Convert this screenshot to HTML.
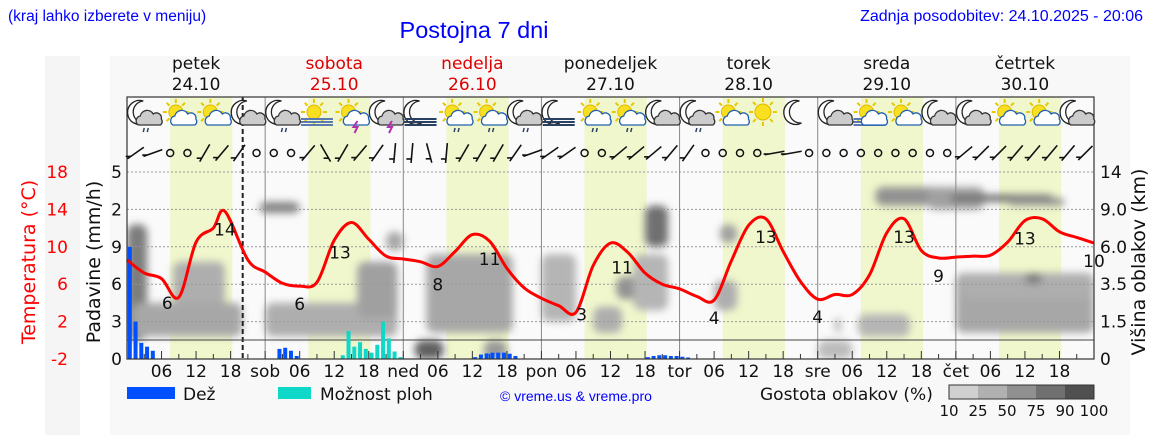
<!DOCTYPE html>
<html><head><meta charset="utf-8">
<style>
html,body{margin:0;padding:0;background:#fff;}
svg{display:block;font-family:"DejaVu Sans","Liberation Sans",sans-serif;}
.hdr{font-family:"Liberation Sans",sans-serif;fill:#0000ff;}
</style></head>
<body>
<svg id="chart" width="1152" height="443" viewBox="0 0 1152 443" xmlns="http://www.w3.org/2000/svg">
<defs>
<filter id="blur" x="-30%" y="-30%" width="160%" height="160%"><feGaussianBlur stdDeviation="4"/></filter>
<clipPath id="plotclip"><rect x="127" y="97" width="967" height="262"/></clipPath>
</defs>
<rect x="45" y="56" width="35" height="379" fill="#f5f5f5"/>
<rect x="110" y="56" width="1020" height="379" fill="#f8f8f8"/>
<text class="hdr" x="8" y="21" font-size="15.5">(kraj lahko izberete v meniju)</text>
<text class="hdr" x="474" y="38" font-size="23.5" text-anchor="middle">Postojna 7 dni</text>
<text class="hdr" x="1143" y="21" font-size="16" text-anchor="end">Zadnja posodobitev: 24.10.2025 - 20:06</text>
<g id="plot"></g>
</svg>
<script>
const NS="http://www.w3.org/2000/svg";
const svg=document.getElementById('chart');
const plot=document.getElementById('plot');
// ---- data ----
const dayNames=["petek","sobota","nedelja","ponedeljek","torek","sreda","četrtek"];
const dayDates=["24.10","25.10","26.10","27.10","28.10","29.10","30.10"];
const dayRed=[false,true,true,false,false,false,false];
const axisDayShort=["","sob","ned","pon","tor","sre","čet"];
// temperatures every 3 h from Fri 00:00
const tempHours=[0,3,6,9,12,15,17,21,24,27,30,33,36,39,42,45,48,51,54,57,60,63,66,69,72,75,78,81,84,87,90,93,96,99,102,105,108,111,114,117,120,123,126,129,132,135,138,141,144,147,150,153,156,159,162,165,168];
const tempVals=[8.6,7.2,6.6,4.6,10.5,12.0,13.8,8.6,7.3,6.1,5.8,6.2,10.7,12.6,10.8,9.0,8.7,8.4,7.9,9.5,11.3,10.6,7.7,5.6,4.5,3.7,3.0,8.0,10.4,9.4,7.2,6.0,5.5,4.7,4.3,8.5,12.3,13.0,9.5,6.3,4.4,4.9,4.9,7.0,11.5,13.0,9.6,8.8,8.9,9.0,9.1,10.5,12.8,13.0,11.6,11.0,10.4];
const tempLabelHours=[7,17,30,37,54,63,79,86,102,111,120,135,141,156,168];
const tempLabelText=["6","14","6","13","8","11","3","11","4","13","4","13","9","13","10"];
const rainHours=[0,1,2,3,4,26,27,28,29,60,61,62,63,64,65,66,67,90,91,92,93,94,95,96,97];
const rainVals=[3.0,1.0,0.43,0.33,0.22,0.27,0.3,0.22,0.08,0.05,0.12,0.15,0.17,0.17,0.17,0.14,0.08,0.05,0.08,0.1,0.1,0.08,0.08,0.06,0.04];
const stormHours=[37,38,39,40,41,42,43,44,45,46,47];
const stormVals=[0.1,0.75,0.33,0.45,0.27,0.17,0.38,1.0,0.55,0.2,0.05];
// clouds: start hour, end hour, low level, high level (grid units 0-5), density %
const cloudStart=[0,8,1,23,24,40,45,50,52,72,81,85,90,88,103,102,120,127,130,139,143,144,153,145,156,62,123];
const cloudEnd=[3.5,17,20,30,47,47,48,55,67,78,86,91,94,94,106,106,126,136,143,149,161,168,163,168,159,66,124];
const cloudLow=[0.5,0.8,0.6,3.9,0.6,1.1,2.9,0,0.7,1.0,0.7,1.6,3.0,1.3,3.1,1.3,0,0.6,4.1,4.0,4.2,0.7,4.1,1.6,2.0,0,0.7];
const cloudHigh=[3.6,2.6,1.5,4.2,1.5,2.6,3.4,0.5,2.8,2.8,1.4,2.2,4.1,2.8,3.6,2.1,0.5,1.2,4.6,4.6,4.4,2.3,4.3,2.3,2.3,0.5,1.1];
const cloudDens=[75,40,45,70,40,50,45,95,45,35,40,60,85,35,50,40,30,35,60,50,85,45,60,40,75,55,40];
// weather icons every 6 h
const iconTypes=["mcr","sc","sc","mc","mcr","sf","st","mst","mf","scr","scr","mcr","mf","scr","scr","mc","mcr","sc","s","m","mc","sfc","sc","mc","mc","sc","sc","mc"];
// wind barbs every 3 h (degrees from vertical, null = calm)
const windAng=[55,70,null,null,30,40,35,null,null,null,40,-30,30,40,35,5,5,-15,5,30,30,30,35,70,55,55,null,null,50,50,50,40,35,null,null,null,null,80,80,null,null,null,null,null,null,null,null,null,50,45,45,40,40,40,40,45];
// ---- axes ----
const X0=127,X1=1094,PX=(X1-X0)/168;
const xh=h=>X0+h*PX;
const yGrid=L=>359-L*37.4;
const yT=t=>359-(t+2)/20*187;
const yRain=v=>v*37.4;
function el(tag,attrs,parent){const e=document.createElementNS(NS,tag);for(const k in attrs)e.setAttribute(k,attrs[k]);(parent||plot).appendChild(e);return e;}
function txt(s,x,y,attrs,parent){const e=el('text',Object.assign({x:x,y:y},attrs),parent);e.textContent=s;return e;}

let e=el('rect',{x:X0,y:97,width:X1-X0,height:262,fill:'#fafafa'});


for(let d=0;d<7;d++){
  e=el('rect',{x:xh(d*24+7.5),y:97,width:10.8*PX,height:262,fill:'#f0f7cc'});
  
  
}
const cg=el('g',{'clip-path':'url(#plotclip)',filter:'url(#blur)'});


for(let i=0;i<cloudStart.length;i++){
  const g=Math.round(230-cloudDens[i]*1.4);
  e=el('rect',{x:xh(cloudStart[i]),y:yGrid(cloudHigh[i]),width:(cloudEnd[i]-cloudStart[i])*PX,height:(cloudHigh[i]-cloudLow[i])*37.4,rx:8,fill:`rgb(${g},${g},${g})`},cg);
  
  
}
for(let L=1;L<=5;L++){
  e=el('line',{x1:X0,x2:X1,y1:yGrid(L),y2:yGrid(L),stroke:'#999','stroke-dasharray':'2,2','stroke-width':1});
  
  
}
for(let d=1;d<7;d++){
  e=el('line',{x1:xh(d*24),x2:xh(d*24),y1:97,y2:359,stroke:'#888','stroke-width':1});
  
  
}
e=el('line',{x1:xh(20.1),x2:xh(20.1),y1:97,y2:359,stroke:'#222','stroke-width':2,'stroke-dasharray':'5,3'});


e=el('line',{x1:X0,x2:X1,y1:340,y2:340,stroke:'#444','stroke-width':1});


for(let i=0;i<rainHours.length;i++){
  const h=yRain(rainVals[i]);
  e=el('rect',{x:xh(rainHours[i])+0.8,y:359-h,width:4,height:h,fill:'#0050ff'});
  
  
}
for(let i=0;i<stormHours.length;i++){
  const h=yRain(stormVals[i]);
  e=el('rect',{x:xh(stormHours[i])+0.8,y:359-h,width:4,height:h,fill:'#10d8c8'});
  
  
}
// temperature line (Catmull-Rom smoothing)
const pts=tempHours.map((h,i)=>[xh(h),yT(tempVals[i])]);
let d='M'+pts[0][0].toFixed(1)+' '+pts[0][1].toFixed(1);
for(let i=0;i<pts.length-1;i++){
  const p0=pts[Math.max(0,i-1)],p1=pts[i],p2=pts[i+1],p3=pts[Math.min(pts.length-1,i+2)];
  const c1=[p1[0]+(p2[0]-p0[0])/6,p1[1]+(p2[1]-p0[1])/6],c2=[p2[0]-(p3[0]-p1[0])/6,p2[1]-(p3[1]-p1[1])/6];
  d+=` C${c1[0].toFixed(1)} ${c1[1].toFixed(1)} ${c2[0].toFixed(1)} ${c2[1].toFixed(1)} ${p2[0].toFixed(1)} ${p2[1].toFixed(1)}`;
}
e=el('path',{d:d,fill:'none',stroke:'#ff0000','stroke-width':3,'stroke-linejoin':'round'});


function tempAt(h){for(let i=1;i<tempHours.length;i++){if(h<=tempHours[i]){const a=tempHours[i-1],b=tempHours[i];return tempVals[i-1]+(tempVals[i]-tempVals[i-1])*(h-a)/(b-a);}}return tempVals[tempVals.length-1];}
for(let i=0;i<tempLabelHours.length;i++){
  const h=tempLabelHours[i];
  e=txt(tempLabelText[i],xh(h),yT(tempAt(h))+24,{'font-size':17,'text-anchor':'middle',fill:'#111'});
  
  
}
e=el('rect',{x:X0,y:97,width:X1-X0,height:262,fill:'none',stroke:'#333','stroke-width':1.2});


for(let h=3;h<168;h+=3){
  el('line',{x1:xh(h),x2:xh(h),y1:359,y2:h%6==0?351:354,stroke:'#333'});
}
for(let dd=0;dd<7;dd++){
  for(const hh of [0,6,12,18]){
    let s=hh==0?axisDayShort[dd]:String(hh).padStart(2,'0');
    if(!s)continue;
    e=txt(s,xh(dd*24+hh),377,{'font-size':17,'text-anchor':'middle',fill:'#111'});
    
    
  }
  e=txt(dayNames[dd],xh(dd*24+12),69,{'font-size':17,'text-anchor':'middle',fill:dayRed[dd]?'#dd0000':'#111'});
  
  
  e=txt(dayDates[dd],xh(dd*24+12),90,{'font-size':17,'text-anchor':'middle',fill:dayRed[dd]?'#dd0000':'#111'});
  
  
}
const tTicks=["-2","2","6","10","14","18"];
const pTicks=["0","3","6","9","2","5"];
const cTicks=["0","1.5","3.5","6.0","9.0","14"];
for(let L=0;L<6;L++){
  e=txt(tTicks[L],68,yGrid(L)+6,{'font-size':17,'text-anchor':'end',fill:'#ff0000'});
  
  
  e=txt(pTicks[L],122,yGrid(L)+6,{'font-size':17,'text-anchor':'end',fill:'#111'});
  
  
  e=txt(cTicks[L],1100,yGrid(L)+6,{'font-size':17,fill:'#111'});
  
  
}
e=txt('Temperatura (°C)',0,0,{'font-size':19,'text-anchor':'middle',fill:'#ff0000',transform:'translate(35,262) rotate(-90)'});


e=txt('Padavine (mm/h)',0,0,{'font-size':19,'text-anchor':'middle',fill:'#111',transform:'translate(100,262) rotate(-90)'});


e=txt('Višina oblakov (km)',0,0,{'font-size':19,'text-anchor':'middle',fill:'#111',transform:'translate(1145,262) rotate(-90)'});


function sun(g,x,y,r){for(let k=0;k<8;k++){const a=k*Math.PI/4;el('line',{x1:x+Math.cos(a)*(r+2),y1:y+Math.sin(a)*(r+2),x2:x+Math.cos(a)*(r+6),y2:y+Math.sin(a)*(r+6),stroke:'#e8c800','stroke-width':2},g);}el('circle',{cx:x,cy:y,r:r,fill:'#f8e020',stroke:'#e0b800'},g);}
function moon(g,x,y){el('path',{d:`M${x+4} ${y-12} A12 12 0 1 0 ${x+6} ${y+10} A10 10 0 1 1 ${x+4} ${y-12} Z`,fill:'#fff',stroke:'#222','stroke-width':1.3},g);}
function cloud(g,x,y,fill,stroke){el('path',{d:`M${x-11} ${y+6} a5 5 0 0 1 2-9 a7 7 0 0 1 13-2 a5 5 0 0 1 8 5 a4 4 0 0 1 -1 6 Z`,fill:fill,stroke:stroke,'stroke-width':1.3},g);}
for(let i=0;i<iconTypes.length;i++){
  const t=iconTypes[i],cx=xh(i*6+3),cy=115;
  const g=el('g',{});
  
  
  if(t[0]=='s')sun(g,cx-3,cy-3,t=='s'?8:7);else moon(g,cx-5,cy-2);
  if(t=='sf'||t=='sfc'||t=='mf'){for(let k=0;k<3;k++)el('line',{x1:cx-16,x2:cx+16,y1:cy+4+k*3,y2:cy+4+k*3,stroke:t=='mf'?'#2a4060':'#5a7ab0','stroke-width':2},g);}
  if(t.length>1&&t!='sf'&&t!='mf'){cloud(g,cx+5,cy+4,t[0]=='m'?'#ccc':'#fff',t[0]=='m'?'#333':'#2060b0');}
  if(t.endsWith('r')){el('path',{d:`M${cx} ${cy+13} l-1 4 M${cx+4} ${cy+13} l-1 4`,stroke:'#2a4060','stroke-width':1.5},g);}
  if(t=='st'||t=='mst'){el('path',{d:`M${cx+6} ${cy+6} l-4 6 h4 l-3 6`,stroke:'#b030b0','stroke-width':2,fill:'none'},g);}
}
for(let i=0;i<windAng.length;i++){
  const x=xh(i*3+1.5),y=153,a=windAng[i];
  const g=el('g',{});
  
  
  if(a===null){el('circle',{cx:x,cy:y,r:3.5,fill:'none',stroke:'#111','stroke-width':1.5},g);continue;}
  const r=a*Math.PI/180,dx=Math.sin(r)*10,dy=Math.cos(r)*10;
  el('line',{x1:x-dx,y1:y+dy,x2:x+dx,y2:y-dy,stroke:'#111','stroke-width':1.6},g);
  el('line',{x1:x-dx*0.6,y1:y+dy*0.6,x2:x-dx*0.6-5,y2:y+dy*0.6,stroke:'#111','stroke-width':1.6},g);
}
const L=el('g',{});


el('rect',{x:127,y:387,width:48,height:12,fill:'#0050ff'},L);
txt('Dež',183,400,{'font-size':17,fill:'#111'},L);
el('rect',{x:278,y:387,width:33,height:12,fill:'#10d8c8'},L);
txt('Možnost ploh',320,400,{'font-size':17,fill:'#111'},L);
txt('© vreme.us & vreme.pro',500,401,{'font-size':14,fill:'#0000ff','font-family':'Liberation Sans, sans-serif'},L);
txt('Gostota oblakov (%)',760,400,{'font-size':17,fill:'#111'},L);
const shades=['#d0d0d0','#b0b0b0','#909090','#707070','#505050'];
const shadeLab=["10","25","50","75","90","100"];
for(let k=0;k<5;k++)el('rect',{x:949+k*29,y:385,width:29,height:14,fill:shades[k]},L);
el('rect',{x:949,y:385,width:145,height:14,fill:'none',stroke:'#333'},L);
for(let k=0;k<6;k++)txt(shadeLab[k],949+k*29,416,{'font-size':15,'text-anchor':'middle',fill:'#111'},L);
</script>
</body></html>
